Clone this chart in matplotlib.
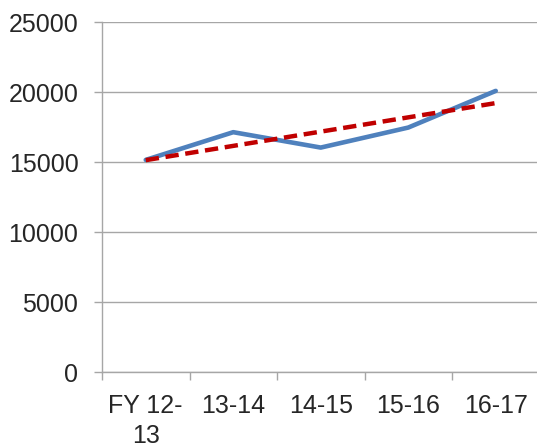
import numpy as np
import matplotlib
matplotlib.use("Agg")
import matplotlib.pyplot as plt

categories = ["FY 12-\n13", "13-14", "14-15", "15-16", "16-17"]
values = [15150, 17130, 16030, 17460, 20080]
y_ticks = [0, 5000, 10000, 15000, 20000, 25000]

plt.rcParams['font.family'] = ['Liberation Sans', 'DejaVu Sans']

fig = plt.figure(figsize=(5.37, 4.47), dpi=100)
W, H = 537, 447
left, right, top, bottom = 102, 539.5, 22, 372
ax = fig.add_axes([left / W, (H - bottom) / H, (right - left) / W, (bottom - top) / H])

x = np.arange(len(categories))
ax.plot(x, values, color='#4F81BD', lw=3.3, solid_capstyle='round', solid_joinstyle='round', zorder=3)
coef = np.polyfit(x, values, 1)
trend = np.polyval(coef, x)
ax.plot(x, trend, color='#C00000', lw=3.2, linestyle=(0, (3.0, 1.5)), dash_capstyle='butt', zorder=4)

ax.set_xlim(-0.5, len(categories) - 0.5)
ax.set_ylim(0, 25000)
ax.set_yticks(y_ticks)
ax.set_yticklabels([str(v) for v in y_ticks])
ax.yaxis.grid(True, color='#A6A6A6', lw=1.0)
ax.set_axisbelow(True)

ax.set_xticks(x)
ax.set_xticklabels(categories, linespacing=1.3)
ax.set_xticks(np.arange(-0.5, len(categories)), minor=True)
ax.tick_params(axis='x', which='major', length=0, pad=16, labelsize=18, labelcolor='#262626')
ax.tick_params(axis='x', which='minor', length=6, width=1, color='#A6A6A6')
ax.tick_params(axis='y', which='major', length=6, width=1, color='#A6A6A6', pad=11,
               labelsize=18, labelcolor='#262626')

for s in ['top', 'right']:
    ax.spines[s].set_visible(False)
for s in ['left', 'bottom']:
    ax.spines[s].set_color('#A6A6A6')
    ax.spines[s].set_linewidth(1.0)

fig.savefig('out.png', dpi=100)
